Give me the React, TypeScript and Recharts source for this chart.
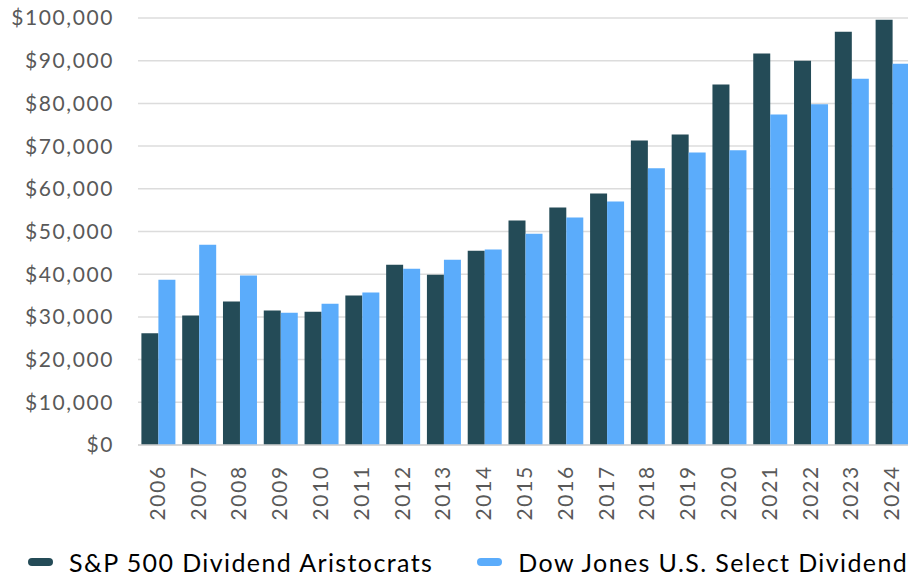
import { BarChart, Bar, XAxis, YAxis, CartesianGrid, Legend } from "recharts";

const years = [
  "2006", "2007", "2008", "2009", "2010", "2011", "2012", "2013", "2014", "2015",
  "2016", "2017", "2018", "2019", "2020", "2021", "2022", "2023", "2024",
];

// S&P 500 Dividend Aristocrats
const aristocrats = [
  26200, 30300, 33600, 31500, 31200, 35000, 42200, 39900, 45500, 52600,
  55600, 58900, 71300, 72700, 84400, 91700, 90000, 96800, 99600,
];

// Dow Jones U.S. Select Dividend
const selectDividend = [
  38700, 46900, 39700, 31000, 33100, 35700, 41300, 43400, 45800, 49500,
  53300, 57000, 64800, 68500, 69000, 77400, 79800, 85800, 89300,
];

const yTicks = [0, 10000, 20000, 30000, 40000, 50000, 60000, 70000, 80000, 90000, 100000];

const series = [
  { key: "aristocrats", label: "S&P 500 Dividend Aristocrats", color: "#244b57" },
  { key: "selectDividend", label: "Dow Jones U.S. Select Dividend", color: "#5bacfb" },
];

const data = years.map((year, i) => ({
  year,
  aristocrats: aristocrats[i],
  selectDividend: selectDividend[i],
}));

const FONT = "Lato, 'Noto Sans', sans-serif";

// 세로로 눕힌 연도 라벨
const YearTick = ({ x, y, payload }: any) => (
  <text
    x={0}
    y={0}
    transform={`translate(${x - 2},${y + 12}) rotate(-90)`}
    textAnchor="end"
    dominantBaseline="central"
    fill="#595959"
    fontFamily={FONT}
    fontSize={21}
    letterSpacing={1.7}
  >
    {payload.value}
  </text>
);

const LegendBox = () => (
  <div
    style={{
      display: "flex",
      alignItems: "center",
      height: 40,
      paddingLeft: 28,
      paddingTop: 13,
      boxSizing: "border-box",
      fontFamily: FONT,
      fontSize: 25,
      color: "#000",
      whiteSpace: "nowrap",
    }}
  >
    {series.map((s, i) => (
      <div
        key={s.key}
        style={{ display: "flex", alignItems: "center", marginLeft: i === 0 ? 0 : 44 }}
      >
        <span
          style={{
            display: "inline-block",
            width: 25,
            height: 8,
            borderRadius: 4,
            background: s.color,
            marginRight: 16,
          }}
        />
        <span style={{ letterSpacing: 1.4 }}>{s.label}</span>
      </div>
    ))}
  </div>
);

export default function App() {
  return (
    <div
      style={{
        position: "absolute",
        left: 0,
        top: 0,
        width: 908,
        height: 575,
        overflow: "hidden",
        background: "#fff",
      }}
    >
      <BarChart
        width={913}
        height={575}
        data={data}
        margin={{ top: 18, right: 0, left: 0, bottom: 0 }}
        barGap={0}
        barCategoryGap={3.4}
      >
        <CartesianGrid vertical={false} stroke="#dcdcdc" strokeWidth={1.5} />
        <XAxis
          dataKey="year"
          interval={0}
          height={90}
          axisLine={{ stroke: "#d0d0d0", strokeWidth: 1.5 }}
          tickLine={false}
          tick={<YearTick />}
        />
        <YAxis
          width={138}
          domain={[0, 100000]}
          ticks={yTicks}
          interval={0}
          axisLine={false}
          tickLine={false}
          tickSize={0}
          tickMargin={24}
          tickFormatter={(v: number) => `$${v.toLocaleString("en-US")}`}
          tick={{ fill: "#595959", fontSize: 21, fontFamily: FONT, letterSpacing: 1.6 }}
        />
        <Legend verticalAlign="bottom" align="left" content={() => <LegendBox />} />
        {series.map((s) => (
          <Bar
            key={s.key}
            dataKey={s.key}
            name={s.label}
            fill={s.color}
            isAnimationActive={false}
          />
        ))}
      </BarChart>
    </div>
  );
}
